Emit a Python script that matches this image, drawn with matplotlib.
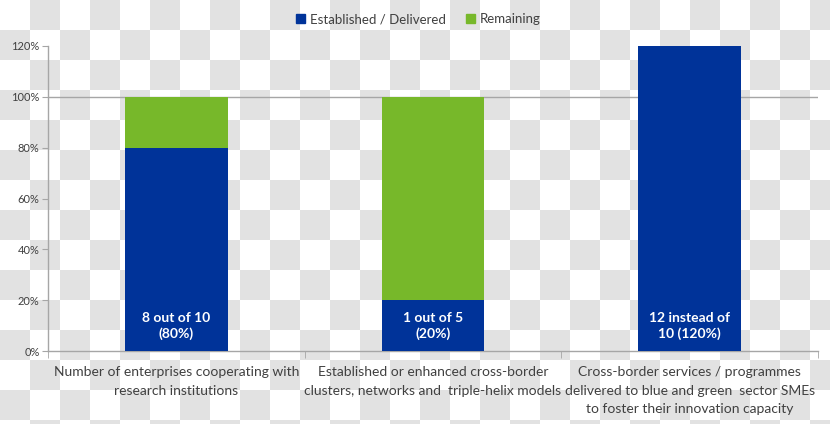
import numpy as np
import matplotlib
matplotlib.use("Agg")
import matplotlib.pyplot as plt
from matplotlib.patches import Patch
from matplotlib.ticker import PercentFormatter

categories = [
    "Number of enterprises cooperating with\nresearch institutions",
    "Established or enhanced cross-border\nclusters, networks and  triple-helix models",
    "Cross-border services / programmes\ndelivered to blue and green  sector SMEs\nto foster their innovation capacity",
]
established = [0.80, 0.20, 1.20]
remaining = [0.20, 0.80, 0.00]
bar_labels = ["8 out of 10\n(80%)", "1 out of 5\n(20%)", "12 instead of\n10 (120%)"]
yticks = [0, 0.2, 0.4, 0.6, 0.8, 1.0, 1.2]

BLUE = "#003399"
GREEN = "#77B82A"
AXC = "#a6a6a6"

plt.rcParams['font.family'] = ['Lato', 'DejaVu Sans']

W, H = 830, 424
fig = plt.figure(figsize=(W / 100, H / 100), dpi=100)
fig.patch.set_facecolor("white")

# checkerboard background (transparency pattern in the reference)
yy, xx = np.mgrid[0:H, 0:W]
chk = ((xx // 30 + yy // 30) % 2 == 1)
img = np.ones((H, W, 3))
img[chk] = 226 / 255
fig.figimage(img, xo=0, yo=0, origin='upper', zorder=-10)

ax = fig.add_axes([48 / W, 1 - 351 / H, (818 - 48) / W, (351 - 46) / H])
ax.set_facecolor("none")

x = np.arange(len(categories))
width = 0.4
ax.bar(x, established, width, color=BLUE, zorder=3)
ax.bar(x, remaining, width, bottom=established, color=GREEN, zorder=3)

for xi, lab in zip(x, bar_labels):
    ax.text(xi, 0.10, lab, ha='center', va='center', color='white',
            fontsize=10, fontweight='bold', linespacing=1.3, zorder=4)

ax.axhline(1.0, color=AXC, lw=1, zorder=1)

ax.set_xlim(-0.5, len(categories) - 0.5)
ax.set_ylim(0, 1.2)
ax.set_yticks(yticks)
ax.yaxis.set_major_formatter(PercentFormatter(1.0, decimals=0))
ax.tick_params(axis='y', length=4, color=AXC, labelsize=8, labelcolor='#404040', pad=2)

ax.set_xticks(x)
ax.set_xticklabels(categories, fontsize=10, color='#404040', linespacing=1.65)
ax.set_xticks(np.arange(-0.5, len(categories), 1.0), minor=True)
ax.tick_params(axis='x', which='major', length=0, pad=11)
ax.tick_params(axis='x', which='minor', length=5, color=AXC)

for s in ['top', 'right']:
    ax.spines[s].set_visible(False)
for s in ['left', 'bottom']:
    ax.spines[s].set_color(AXC)
    ax.spines[s].set_linewidth(1)

handles = [Patch(color=BLUE, label="Established / Delivered"),
           Patch(color=GREEN, label="Remaining")]
fig.legend(handles=handles, loc='center', bbox_to_anchor=(0.504, 1 - 19 / H),
           ncol=2, frameon=False, fontsize=9.5, handlelength=0.7, handleheight=0.7,
           handletextpad=0.4, columnspacing=1.5, labelcolor='#404040')

fig.savefig("out.png", dpi=100)
